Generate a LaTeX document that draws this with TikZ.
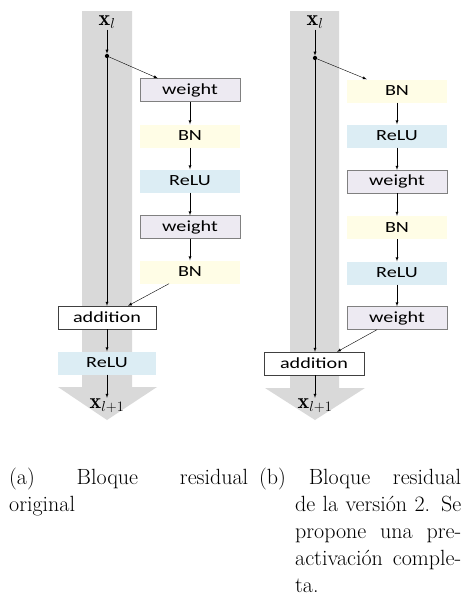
\documentclass[tikz,border=0pt]{standalone}
\usepackage{fontspec}
\usepackage{amsmath}
\newfontfamily\boxfont[FakeStretch=1.3]{Carlito}
\usepackage{tikz}
\definecolor{weightfill}{RGB}{237,234,242}
\definecolor{bnfill}{RGB}{255,253,230}
\definecolor{relufill}{RGB}{220,237,244}
\definecolor{pathgray}{RGB}{217,217,217}

\begin{document}
\begin{tikzpicture}[x=1pt,y=-1pt,>=latex,
        blk/.style = {minimum width=100pt, minimum height=23pt, inner sep=0pt, font=\boxfont\fontsize{15.5}{18}\selectfont},
        wbox/.style = {blk, draw=black!50, fill=weightfill},
        bnbox/.style = {blk, fill=bnfill},
        relubox/.style = {blk, fill=relufill},
        addbox/.style = {blk, draw=black!75, fill=white},
        xlab/.style = {inner sep=1pt, font=\fontsize{22}{24}\selectfont},
        junction/.style = {circle, fill, inner sep=1.5pt},
        captext/.style = {anchor=base west, inner sep=0pt, font=\fontsize{22}{27}\selectfont}]
        \useasboundingbox (0,0) rectangle (463,597);
        % gray shortcut arrows
        \fill[pathgray] (82,11) -- (132,11) -- (132,387) -- (157,387) -- (107,420) -- (58,387) -- (82,387) -- cycle;
        \fill[pathgray] (290,11) -- (339,11) -- (339,388) -- (365,388) -- (315,420) -- (265,388) -- (290,388) -- cycle;

        % (a) original block
        \node[xlab] (xa) at (107,22) {$\mathbf{x}_l$};
        \node[junction] (da) at (107,56) {};
        \node[wbox] (wa1) at (190,90) {weight};
        \node[bnbox] (ba1) at (190,136) {BN};
        \node[relubox] (ra1) at (190,181) {ReLU};
        \node[wbox] (wa2) at (190,227) {weight};
        \node[bnbox] (ba2) at (190,272) {BN};
        \node[addbox, minimum width=98pt] (adda) at (107,317.5) {addition};
        \node[relubox, minimum width=98pt] (ra3) at (107,363) {ReLU};
        \node[xlab] (ya) at (107,406) {$\mathbf{x}_{l+1}$};
        \draw[->] (xa) -- (da);
        \draw[->] (da) -- ([xshift=18pt]wa1.north west);
        \draw[->] (wa1) -- (ba1);
        \draw[->] (ba1) -- (ra1);
        \draw[->] (ra1) -- (wa2);
        \draw[->] (wa2) -- (ba2);
        \draw[->] (da) -- (adda);
        \draw[->] ([xshift=-21pt]ba2.south) -- ([xshift=21pt]adda.north);
        \draw[->] (adda) -- (ra3);
        \draw[->] (ra3) -- (ya);

        % (b) full pre-activation block
        \node[xlab] (xb) at (315,22) {$\mathbf{x}_l$};
        \node[junction] (db) at (315,58) {};
        \node[bnbox] (bb1) at (397,91) {BN};
        \node[relubox] (rb1) at (397,136) {ReLU};
        \node[wbox] (wb1) at (397,181.5) {weight};
        \node[bnbox] (bb2) at (397,227.5) {BN};
        \node[relubox] (rb2) at (397,273) {ReLU};
        \node[wbox] (wb2) at (397,318) {weight};
        \node[addbox] (addb) at (314,363.5) {addition};
        \node[xlab] (yb) at (315,406) {$\mathbf{x}_{l+1}$};
        \draw[->] (xb) -- (db);
        \draw[->] (db) -- ([xshift=20pt]bb1.north west);
        \draw[->] (bb1) -- (rb1);
        \draw[->] (rb1) -- (wb1);
        \draw[->] (wb1) -- (bb2);
        \draw[->] (bb2) -- (rb2);
        \draw[->] (rb2) -- (wb2);
        \draw[->] (db) -- (db |- addb.north);
        \draw[->] ([xshift=-20pt]wb2.south) -- ([xshift=23pt]addb.north);
        \draw[->] (addb.south -| yb) -- (yb);

        % captions
        \node[captext] (capa) at (9,484) {\parbox[t]{239pt}{\hyphenpenalty=10000 (a) Bloque residual\linebreak original}};
        \node[captext] (capb) at (259,484) {\parbox[t]{202pt}{\hangindent=36pt\hangafter=1 (b) Bloque residual\linebreak de la versión 2. Se\linebreak propone una pre-\linebreak activación comple-\linebreak ta.}};
\end{tikzpicture}
\end{document}
